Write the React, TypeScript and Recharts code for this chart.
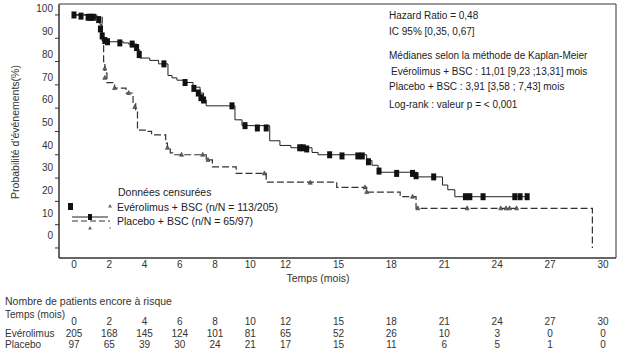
import React from "react";
import {
  ComposedChart,
  Line,
  Scatter,
  XAxis,
  YAxis,
} from "recharts";

// Kaplan-Meier steps: [time (months), % without event]
const everoSteps = [
  [0, 100], [1.3, 99], [1.47, 96], [1.59, 92], [1.65, 90], [1.87, 88.5],
  [2.8, 88], [3.1, 87.5], [3.57, 85], [3.74, 81.5], [4.3, 80.5], [4.8, 79],
  [5.33, 74], [5.56, 73], [5.84, 72], [6.3, 71], [6.75, 69], [7.15, 66.5],
  [7.35, 63.5], [7.5, 61], [9.13, 55], [9.53, 52.5], [11.1, 46], [11.68, 44],
  [12.3, 43], [13.5, 41], [13.84, 40], [16.6, 37.5], [16.9, 35.5],
  [17.25, 32.5], [19.45, 30.5], [20.9, 27], [21.2, 25], [21.6, 22], [25.7, 22],
].map(([t, p]) => ({ t, p }));

const placeboSteps = [
  [0, 100], [1.0, 99], [1.6, 89], [1.68, 80], [1.75, 75], [1.87, 71],
  [2.3, 68.6], [2.95, 66.5], [3.35, 62], [3.5, 59], [3.6, 50.6], [4.1, 50],
  [4.4, 48.5], [5.2, 45], [5.3, 42.5], [5.46, 40.8], [5.6, 40], [7.5, 37.8],
  [7.85, 34.8], [9.2, 32], [10.9, 28.3], [14.9, 26], [16.6, 24], [18.5, 22],
  [19.4, 17], [29.4, 17], [29.4, 0],
].map(([t, p]) => ({ t, p }));

// censored observations
const everoCensor = [
  [0, 100], [0.4, 99.5], [0.8, 99], [0.95, 99], [1.1, 99], [1.4, 98],
  [1.5, 94], [1.6, 91], [1.75, 89], [1.9, 88.5], [2.6, 88], [3.3, 87.5],
  [3.55, 86], [3.7, 83], [5.1, 79], [6.3, 71], [6.8, 68.5], [7.05, 66.5],
  [7.2, 64.5], [7.35, 63.5], [8.96, 61], [9.7, 52.5], [10.4, 51.5],
  [10.9, 51.5], [12.8, 43], [13.0, 43], [13.2, 42.5], [14.5, 40], [15.2, 39.5],
  [16.1, 39.5], [16.35, 39.5], [16.7, 37], [17.3, 33], [18.3, 32], [19.2, 32],
  [19.4, 31], [20.4, 30.5], [22.2, 22], [22.45, 22], [23.2, 22], [25.0, 22],
  [25.3, 22], [25.7, 22],
].map(([t, p]) => ({ t, p }));

const placeboCensor = [
  [1.75, 77], [1.75, 73], [2.3, 68.6], [3.1, 66.5], [3.45, 60.5], [5.3, 43],
  [6.1, 40], [7.3, 40], [7.6, 37.8], [10.8, 32], [13.4, 28], [16.5, 26],
  [16.6, 24], [19.2, 22], [19.5, 17], [22.3, 17], [24.2, 17], [24.5, 17],
  [24.7, 17], [25.1, 17],
].map(([t, p]) => ({ t, p }));

const timeTicks = [0, 2, 4, 6, 8, 10, 12, 15, 18, 21, 24, 27, 30];
const everoAtRisk = [205, 168, 145, 124, 101, 81, 65, 52, 26, 10, 3, 0, 0];
const placeboAtRisk = [97, 65, 39, 30, 24, 21, 17, 15, 11, 6, 5, 1, 0];
const yTicks = [0, 10, 20, 30, 40, 50, 60, 70, 80, 90, 100];

const statLines = [
  "Hazard Ratio = 0,48",
  "IC 95% [0,35, 0,67]",
  "Médianes selon la méthode de Kaplan-Meier",
  "Evérolimus + BSC : 11,01 [9,23 ;13,31] mois",
  "Placebo + BSC : 3,91 [3,58 ; 7,43] mois",
  "Log-rank : valeur p =  < 0,001",
];

const FONT = "'Liberation Sans', Arial, sans-serif";
const INK = "#222";

// axis tick + the at-risk table column below it
const XTick = (props: any) => {
  const { x, y, payload } = props;
  const i = timeTicks.indexOf(payload.value);
  return (
    <g fontSize={10} fill="#333" textAnchor="middle">
      <text x={x} y={y + 9.5}>{payload.value}</text>
      <text x={x} y={y + 67}>{payload.value}</text>
      <text x={x} y={y + 78.5}>{everoAtRisk[i]}</text>
      <text x={x} y={y + 89.5}>{placeboAtRisk[i]}</text>
    </g>
  );
};

const YTick = (props: any) => {
  const { x, y, payload } = props;
  // labels sit a little above their tick in the source
  const dy = 3.5 - 6 - (100 - payload.value) * 0.06;
  return (
    <text x={x} y={y + dy} textAnchor="end" fontSize={10} fill="#333">
      {payload.value}
    </text>
  );
};

const Square = (props: any) => {
  const { cx, cy } = props;
  return <rect x={cx - 2.5} y={cy - 3.5} width={5} height={7} fill="#111" />;
};

const Triangle = (props: any) => {
  const { cx, cy } = props;
  return (
    <path
      d={`M${cx},${cy - 2.5}L${cx + 2},${cy + 1.5}L${cx - 2},${cy + 1.5}Z`}
      fill="#666"
      stroke="#333"
      strokeWidth={0.6}
    />
  );
};

export default function App() {
  return (
    <div
      style={{
        position: "absolute",
        left: 0,
        top: 0,
        width: 618,
        height: 352,
        background: "#fff",
        fontFamily: FONT,
      }}
    >
      <ComposedChart
        width={618}
        height={352}
        margin={{ top: 4, right: 2, bottom: 0, left: 0 }}
      >
        <XAxis
          dataKey="t"
          type="number"
          domain={[-0.85, 30.74]}
          ticks={timeTicks}
          allowDataOverflow
          interval={0}
          height={94}
          tickLine={false}
          tickSize={0}
          tickMargin={0}
          tick={<XTick />}
          axisLine={{ stroke: "#333", strokeWidth: 1.5 }}
        />
        <YAxis
          type="number"
          domain={[-4.3, 104.7]}
          ticks={yTicks}
          allowDataOverflow
          interval={0}
          width={59}
          tickSize={4}
          tickMargin={2}
          tick={<YTick />}
          tickLine={{ stroke: "#333" }}
          axisLine={{ stroke: "#333", strokeWidth: 1.5 }}
        />
        <Line
          data={placeboSteps}
          dataKey="p"
          type="stepAfter"
          stroke="#333"
          strokeWidth={1.2}
          strokeDasharray="7 3"
          dot={false}
          isAnimationActive={false}
        />
        <Line
          data={everoSteps}
          dataKey="p"
          type="stepAfter"
          stroke={INK}
          strokeWidth={1}
          dot={false}
          isAnimationActive={false}
        />
        <Scatter
          data={placeboCensor}
          dataKey="p"
          shape={<Triangle />}
          isAnimationActive={false}
        />
        <Scatter
          data={everoCensor}
          dataKey="p"
          shape={<Square />}
          isAnimationActive={false}
        />
      </ComposedChart>

      <svg
        width={618}
        height={352}
        style={{ position: "absolute", left: 0, top: 0, pointerEvents: "none" }}
        fontFamily={FONT}
      >
        {/* frame */}
        <line x1={59} y1={4} x2={616} y2={4} stroke="#777" strokeWidth={1.5} />
        <line x1={616} y1={4} x2={616} y2={258} stroke="#555" strokeWidth={1.2} />

        <text
          transform="translate(19,132) rotate(-90)"
          textAnchor="middle"
          fontSize={10.5}
          fill="#333"
        >
          Probabilité d'événements(%)
        </text>

        <g fontSize={10} fill={INK}>
          <text x={389} y={18.5}>{statLines[0]}</text>
          <text x={389} y={34.5}>{statLines[1]}</text>
          <text x={389} y={58.5}>{statLines[2]}</text>
          <text x={391} y={74.5}>{statLines[3]}</text>
          <text x={389} y={89.5}>{statLines[4]}</text>
          <text x={389} y={107.5}>{statLines[5]}</text>
        </g>

        {/* legend */}
        <g fontSize={10.5} fill={INK}>
          <text x={118} y={196}>Données censurées</text>
          <text x={117} y={210.5}>Evérolimus + BSC (n/N = 113/205)</text>
          <text x={117} y={224.5}>Placebo + BSC (n/N = 65/97)</text>
        </g>
        <rect x={68} y={203} width={5} height={7} fill="#111" />
        <path d="M110,204L112,207.5L108,207.5Z" fill="#666" />
        <line x1={72} y1={217} x2={108} y2={217} stroke={INK} strokeWidth={1} />
        <rect x={88} y={214} width={4} height={6} fill="#111" />
        <line
          x1={72}
          y1={221}
          x2={110}
          y2={221}
          stroke="#333"
          strokeWidth={1.2}
          strokeDasharray="6 3"
        />
        <path d="M90,226L92,229.5L88,229.5Z" fill="#666" />
        <circle cx={110} cy={228} r={0.8} fill="#666" />

        <text x={318} y={282} textAnchor="middle" fontSize={10.5} fill="#333">
          Temps (mois)
        </text>

        {/* at-risk table row labels */}
        <g fontSize={10} fill="#333">
          <text x={5} y={304.5} fontSize={10.5}>
            Nombre de patients encore à risque
          </text>
          <text x={5} y={318}>Temps (mois)</text>
          <text x={5} y={336.5}>Evérolimus</text>
          <text x={5} y={347.5}>Placebo</text>
        </g>
      </svg>
    </div>
  );
}
